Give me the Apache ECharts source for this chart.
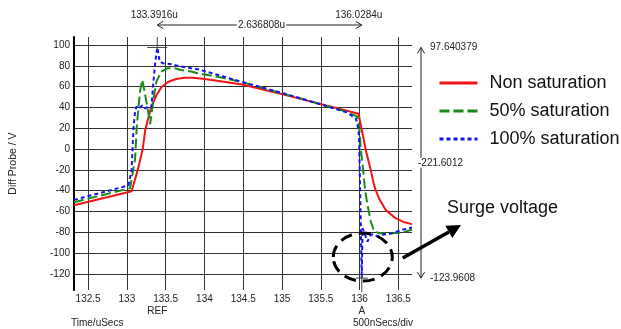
<!DOCTYPE html>
<html>
<head>
<meta charset="utf-8">
<script src="https://cdn.jsdelivr.net/npm/echarts@6/dist/echarts.min.js"></script>
<style>
    html, body { margin: 0; padding: 0; background: #fff; }
    #chart { width: 621px; height: 329px; }
</style>
</head>
<body>
<div id="chart"></div>
<script>
    // time in uSecs, voltage in V
    var xTicks = [132.5, 133, 133.5, 134, 134.5, 135, 135.5, 136, 136.5];
    var yTicks = [-120, -100, -80, -60, -40, -20, 0, 20, 40, 60, 80, 100];

    var nonSatT = [132.318, 133.061, 133.140, 133.204, 133.236, 133.287, 133.316, 133.380, 133.444, 133.529, 133.635, 133.742, 133.848, 133.976, 134.231, 134.486, 134.741, 134.996, 135.251, 135.825, 135.987, 136.029, 136.080, 136.144, 136.186, 136.207, 136.250, 136.335, 136.463, 136.565, 136.676];
    var nonSatV = [-54, -40.5, -20, 0, 18, 33, 41, 51.5, 59.5, 64.5, 67.3, 68.5, 68.6, 67.5, 65, 62, 57.5, 53, 48, 37, 34, 18.4, -0.8, -20, -34.4, -39.2, -47.2, -58.4, -66.4, -70, -72.1];

    var halfSatT = [132.318, 133.041, 133.061, 133.105, 133.128, 133.147, 133.168, 133.198, 133.232, 133.274, 133.300, 133.338, 133.380, 133.444, 133.529, 133.615, 133.699, 133.827, 133.912, 134.231, 134.486, 134.996, 135.251, 135.825, 135.974, 135.995, 136.017, 136.046, 136.071, 136.102, 136.144, 136.186, 136.250, 136.421, 136.548, 136.676];
    var halfSatV = [-51, -37.6, -38, -10, 22, 38, 55, 66.5, 53.7, 36, 24, 45.6, 64.8, 74.5, 77.7, 77.7, 76, 74.5, 72.9, 68.5, 64.3, 53.5, 48.5, 36, 31.2, 21.6, -0.8, -20, -39.2, -53.6, -69.6, -78.6, -80.8, -80.8, -80.2, -77.5];

    var fullSatT = [132.318, 133.019, 133.041, 133.061, 133.083, 133.105, 133.125, 133.159, 133.198, 133.236, 133.274, 133.316, 133.338, 133.367, 133.3916, 133.423, 133.466, 133.571, 133.699, 133.827, 133.912, 134.231, 134.486, 134.996, 135.251, 135.825, 135.952, 135.987, 135.995, 136.010, 136.0284, 136.038, 136.071, 136.102, 136.144, 136.186, 136.229, 136.293, 136.421, 136.548, 136.676];
    var fullSatV = [-48.8, -35, -34.4, -20, 18, 36, 41, 39, 42, 39, 41, 40, 61.6, 84, 97.640379, 84, 82.5, 81.6, 79.3, 77.7, 76.8, 70, 64.5, 54, 48.5, 35.5, 29.7, 18.4, 5.6, -50, -123.9608, -76, -82.4, -88.9, -82.4, -81.7, -84, -82.4, -80.8, -77.6, -75.4];

    var refCursor = [133.3916, 97.640379];
    var aCursor = [136.0284, -123.9608];

    function zip(t, v) {
        return t.map(function (x, i) { return [x, v[i]]; });
    }

    var font = 'Liberation Sans, Arial, sans-serif';
    var chart = echarts.init(document.getElementById('chart'));

    chart.setOption({
        animation: false,
        backgroundColor: '#fff',
        grid: { left: 70, right: 209, top: 37, bottom: 39 },
        legend: {
            orient: 'vertical',
            left: 433,
            top: 69,
            itemWidth: 38,
            itemHeight: 14,
            itemGap: 10,
            lineStyle: { width: 3 },
            itemStyle: { opacity: 0 },
            textStyle: { fontSize: 18, fontFamily: font, color: '#111', padding: [0, 0, 0, 7] },
            data: ['Non saturation', '50% saturation', '100% saturation']
        },
        xAxis: {
            type: 'value',
            min: 132.318,
            max: 136.676,
            axisLine: { show: false },
            axisTick: { show: false, customValues: xTicks },
            axisLabel: { customValues: xTicks, fontSize: 10, fontFamily: font, color: '#222', margin: 4 },
            splitLine: { show: true, lineStyle: { color: '#333', width: 1 } }
        },
        yAxis: {
            type: 'value',
            min: -135.4,
            max: 107.7,
            name: 'Diff Probe / V',
            nameLocation: 'middle',
            nameGap: 55,
            nameTextStyle: { fontSize: 10.5, fontFamily: font, color: '#222' },
            axisLine: { show: true, lineStyle: { color: '#000', width: 2 } },
            axisTick: { show: false, customValues: yTicks },
            axisLabel: { customValues: yTicks, fontSize: 10, fontFamily: font, color: '#222', margin: 4 },
            splitLine: { show: true, lineStyle: { color: '#333', width: 1 } }
        },
        series: [
            {
                name: 'Non saturation', type: 'line', symbol: 'none', z: 3,
                lineStyle: { color: '#f21414', width: 2 },
                itemStyle: { color: '#f21414' },
                data: zip(nonSatT, nonSatV)
            },
            {
                name: '50% saturation', type: 'line', symbol: 'none', z: 4,
                lineStyle: { color: '#1a8a1a', width: 2, type: [10, 4] },
                itemStyle: { color: '#1a8a1a' },
                data: zip(halfSatT, halfSatV)
            },
            {
                name: '100% saturation', type: 'line', symbol: 'none', z: 5,
                lineStyle: { color: '#1414ee', width: 2, type: [4, 3] },
                itemStyle: { color: '#1414ee' },
                data: zip(fullSatT, fullSatV)
            }
        ]
    });

    // cursor / measurement annotations
    var ref = chart.convertToPixel({ gridIndex: 0 }, refCursor);
    var a = chart.convertToPixel({ gridIndex: 0 }, aCursor);
    var grey = '#444';
    var txt = { fontSize: 10, fontFamily: font, fill: '#222' };

    function label(x, y, text, align, extra) {
        var s = Object.assign({ x: x, y: y, text: text, align: align, verticalAlign: 'middle' }, txt, extra || {});
        return { type: 'text', z: 50, style: s };
    }
    function seg(x1, y1, x2, y2, color, w, dash) {
        return { type: 'line', z: 50, shape: { x1: x1, y1: y1, x2: x2, y2: y2 },
            style: { stroke: color, lineWidth: w, lineDash: dash || null } };
    }
    function chevron(x, y, dx, dy, s) {
        // open arrow head pointing along (dx, dy)
        var nx = -dy, ny = dx;
        return { type: 'polyline', z: 50, shape: { points: [
            [x - dx * s + nx * s * 0.6, y - dy * s + ny * s * 0.6], [x, y],
            [x - dx * s - nx * s * 0.6, y - dy * s - ny * s * 0.6]] },
            style: { stroke: '#222', lineWidth: 1, fill: null } };
    }

    var measX = 421;
    var topY = 25;
    var els = [
        label(ref[0] - 3, 15, '133.3916u', 'center'),
        label(a[0] - 3, 15, '136.0284u', 'center'),
        seg(ref[0], topY, a[0], topY, '#222', 1),
        chevron(ref[0], topY, -1, 0, 6),
        chevron(a[0], topY, 1, 0, 6),
        label((ref[0] + a[0]) / 2 + 2, topY, '2.636808u', 'center', { backgroundColor: '#fff', padding: [0, 1] }),
        // REF crosshair
        seg(ref[0] - 10, ref[1], ref[0] + 10, ref[1], grey, 1),
        seg(ref[0], 37, ref[0], ref[1] + 3, grey, 1),
        // A crosshair
        seg(a[0] - 6, a[1], a[0] + 6, a[1], grey, 1),
        seg(a[0], a[1] - 3, a[0], 292, grey, 1),
        label(ref[0], 311, 'REF', 'center'),
        label(a[0], 311, 'A', 'center'),
        label(71, 323, 'Time/uSecs', 'left'),
        label(353, 323, '500nSecs/div', 'left'),
        // vertical measurement arrow
        seg(measX, ref[1], measX, a[1], '#222', 1),
        chevron(measX, ref[1], 0, -1, 6),
        chevron(measX, a[1], 0, 1, 6),
        label(430, ref[1], '97.640379', 'left'),
        label(418, (ref[1] + a[1]) / 2, '-221.6012', 'left', { backgroundColor: '#fff' }),
        label(430, a[1], '-123.9608', 'left'),
        // surge voltage callout
        { type: 'ellipse', z: 60, shape: { cx: a[0] + 1, cy: a[1] - 21, rx: 29.5, ry: 24 },
          style: { stroke: '#000', lineWidth: 3, fill: null, lineDash: [12, 7] } },
        label(447, 208, 'Surge voltage', 'left', { fontSize: 18, fill: '#111' })
    ];

    // thick arrow pointing to the label
    var p0 = [a[0] + 41, a[1] - 20], p1 = [461, 225];
    var dx = p1[0] - p0[0], dy = p1[1] - p0[1], len = Math.sqrt(dx * dx + dy * dy);
    dx /= len; dy /= len;
    var bx = p1[0] - dx * 14, by = p1[1] - dy * 14;
    els.push(seg(p0[0], p0[1], bx, by, '#000', 3.5));
    els.push({ type: 'polygon', z: 60, shape: { points: [p1, [bx - dy * 7, by + dx * 7], [bx + dy * 7, by - dx * 7]] },
        style: { fill: '#000' } });

    chart.setOption({ graphic: els });
</script>
</body>
</html>
